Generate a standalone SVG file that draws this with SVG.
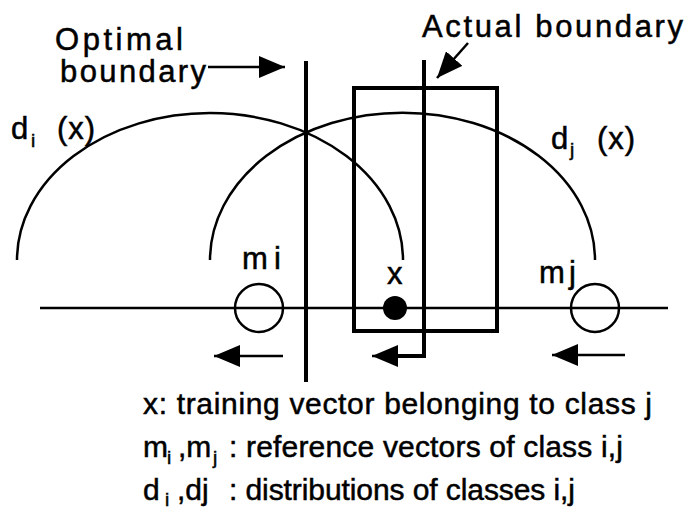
<svg xmlns="http://www.w3.org/2000/svg" width="688" height="513" viewBox="0 0 688 513">
<style>
text{font-family:"Liberation Sans",Arial,sans-serif;fill:#000;stroke:#000;stroke-width:0.5}
.lbl{font-size:31px}
.leg{font-size:30px}
.sub{font-size:19px}
.thin{fill:none;stroke:#000;stroke-width:2.5}
.thick{fill:none;stroke:#000;stroke-width:4}
</style>
<defs>
<marker id="ah" markerUnits="userSpaceOnUse" markerWidth="26" markerHeight="22" refX="26" refY="11" orient="auto">
<path d="M0,0 L26,11 L0,22 Z" fill="#000"/>
</marker>
</defs>
<rect width="688" height="513" fill="#fff"/>

<g id="axis"><line class="thin" x1="40" y1="308" x2="668" y2="308"/></g>

<g id="dist-i"><path class="thin" d="M17,260 A193,147 0 0 1 403,260"/>
<text class="lbl" x="11" y="139">d</text><text class="sub" x="31" y="147">i</text><text class="lbl" x="57" y="139" textLength="38">(x)</text></g>

<g id="dist-j"><path class="thin" d="M210,260 A192,147 0 0 1 595,260"/>
<text class="lbl" x="551" y="149">d</text><text class="sub" x="570" y="156">j</text><text class="lbl" x="597" y="149" textLength="38">(x)</text></g>

<g id="window"><rect class="thick" x="354" y="88" width="143" height="243"/></g>

<g id="optimal-boundary"><line class="thick" x1="306" y1="61" x2="306" y2="382"/>
<text class="lbl" x="55" y="50" textLength="128">Optimal</text>
<text class="lbl" x="60" y="82" textLength="146">boundary</text></g>

<g id="actual-boundary"><polyline class="thick" points="424,60 424,356 396,356"/>
<text class="lbl" x="422" y="37" textLength="261">Actual  boundary</text></g>

<g id="mi"><circle class="thin" cx="259" cy="308" r="24" fill="#fff"/>
<text class="lbl" x="242" y="269" textLength="39">m i</text></g>

<g id="mj"><circle class="thin" cx="595" cy="308" r="24" fill="#fff"/>
<text class="lbl" x="539" y="283" textLength="37">mj</text></g>

<g id="x"><circle cx="395" cy="308" r="12" fill="#000"/>
<text class="lbl" x="387" y="284">x</text></g>

<g id="connectors">
<line class="thin" x1="208" y1="67" x2="285" y2="67" marker-end="url(#ah)"/>
<line class="thin" x1="468" y1="43" x2="437" y2="78" stroke-width="3" marker-end="url(#ah)"/>
<line class="thin" x1="283" y1="356" x2="214" y2="356" marker-end="url(#ah)"/>
<line class="thin" x1="398" y1="356" x2="372" y2="356" marker-end="url(#ah)"/>
<line class="thin" x1="625" y1="355" x2="552" y2="355" marker-end="url(#ah)"/>
</g>

<g id="legend">
<text class="leg" x="143" y="414" textLength="509">x: training vector belonging to class j</text>
<text class="leg" x="143" y="457">m</text><text class="sub" x="167" y="464">i</text>
<text class="leg" x="178" y="457">,m</text><text class="sub" x="213" y="464">j</text>
<text class="leg" x="229" y="457" textLength="394">: reference vectors of class i,j</text>
<text class="leg" x="143" y="500">d</text><text class="sub" x="165" y="506">i</text>
<text class="leg" x="177" y="500">,dj</text>
<text class="leg" x="229" y="500" textLength="346">: distributions of classes i,j</text>
</g>
</svg>
